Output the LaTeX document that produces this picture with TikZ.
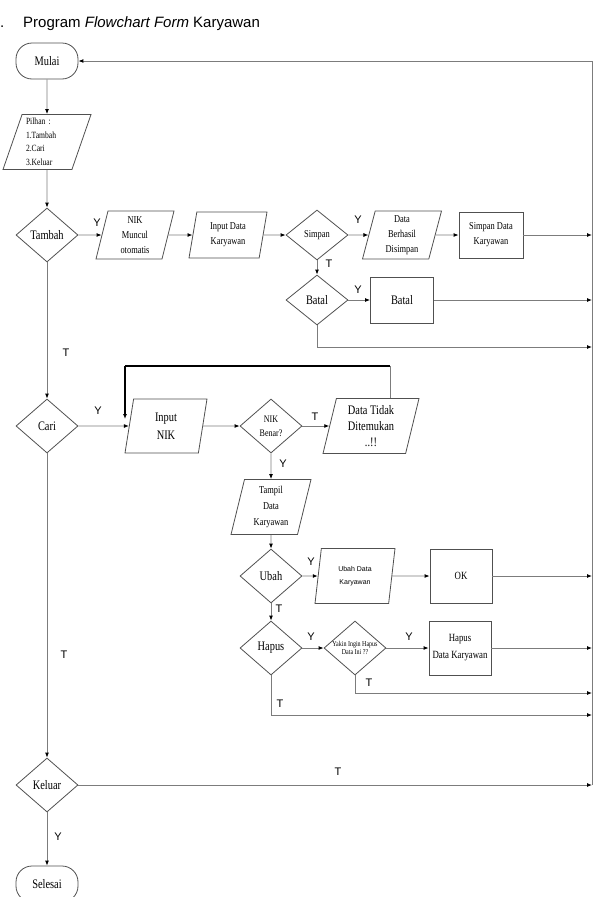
\documentclass[tikz,border=0pt]{standalone}
\usepackage{fontspec}
\setmainfont{Liberation Serif}[FakeStretch=0.8]
\setsansfont{Liberation Sans}
\usepackage{tikz}
\usetikzlibrary{arrows.meta}
\usetikzlibrary{shapes.geometric}
\definecolor{abu}{HTML}{7C7C7C}
\definecolor{tepi}{HTML}{505050}
\tikzset{>={Latex[length=5pt,width=4pt]}}
\tikzset{
	alur/.style={draw=abu, line width=0.9pt, -{Latex[black,length=5pt,width=4pt]}},
	garis/.style={draw=abu, line width=0.9pt},
	balik/.style={draw=black, line width=1.1pt},
	terminal/.style={draw=tepi, line width=0.8pt, rectangle, rounded corners=16pt, minimum width=62, minimum height=36, inner sep=0pt},
	keputusan/.style={draw=tepi, line width=0.8pt, diamond, aspect=1.15, inner sep=0pt, minimum width=62, minimum height=54, align=center},
	masukan/.style={draw=tepi, line width=0.8pt, trapezium, trapezium left angle=72, trapezium right angle=108, trapezium stretches body, inner sep=0pt, align=center},
	proses/.style={draw=tepi, line width=0.8pt, rectangle, inner sep=0pt, align=center},
	besar/.style={font=\fontsize{13}{18}\selectfont},
	sedang/.style={font=\fontsize{10.5}{15}\selectfont},
	ket/.style={font=\sffamily\fontsize{11}{11}\selectfont, inner sep=0pt},
}

\begin{document}
\begin{tikzpicture}[x=1pt, y=-1pt]
	\useasboundingbox (0,0) rectangle (596,897);
	\node[anchor=base west, inner sep=0pt, font=\sffamily\fontsize{15}{15}\selectfont] (nomor) at (0,27) {.};
	\node[anchor=base west, inner sep=0pt, font=\sffamily\fontsize{15}{15}\selectfont] (judul) at (23,27) {Program \textit{Flowchart Form} Karyawan};
	\coordinate (kanan) at (592,0);

	\node[terminal, besar] (mulai) at (47,61) {Mulai};
	\node[masukan, trapezium left angle=68, trapezium right angle=112, minimum width=88, minimum height=55, text width=42, align=left, font=\fontsize{9.5}{13.5}\selectfont] (pilihan) at (47,142) {Pilhan :\\1.Tambah\\2.Cari\\3.Keluar};
	\node[keputusan, besar] (tambah) at (47,235) {Tambah};
	\node[masukan, sedang, minimum width=78, minimum height=48] (nik) at (135,235) {NIK\\Muncul\\otomatis};
	\node[masukan, sedang, minimum width=78, minimum height=46] (inputdata) at (228,235) {Input Data\\Karyawan};
	\node[keputusan, sedang, minimum height=50] (simpan) at (317,235) {Simpan};
	\node[masukan, sedang, minimum width=79, minimum height=48] (berhasil) at (402,235) {Data\\Berhasil\\Disimpan};
	\node[proses, sedang, minimum width=64, minimum height=46] (simpandata) at (491,235) {Simpan Data\\Karyawan};
	\node[keputusan, besar, minimum height=50] (batal) at (317,300) {Batal};
	\node[proses, besar, minimum width=63, minimum height=46] (batalp) at (402,300) {Batal};
	\coordinate (kbatal) at (592,347);

	\node[keputusan, besar] (cari) at (47,426) {Cari};
	\node[masukan, besar, minimum width=82, minimum height=54] (inputnik) at (166,426) {Input\\NIK};
	\node[keputusan, font=\fontsize{10}{14}\selectfont] (nikbenar) at (271,426) {NIK\\Benar?};
	\node[masukan, font=\fontsize{13}{16}\selectfont, minimum width=96, minimum height=55] (tidak) at (371,426) {Data Tidak\\Ditemukan\\..!!};
	\coordinate (lkanan) at (390,366);
	\coordinate (lkiri) at (125,366);
	\coordinate (lujung) at (125,419);
	\node[masukan, font=\fontsize{10.5}{16}\selectfont, minimum width=80, minimum height=55] (tampil) at (271,507) {Tampil\\Data\\Karyawan};
	\node[keputusan, besar] (ubah) at (271,576) {Ubah};
	\node[masukan, font=\sffamily\fontsize{7}{13}\selectfont, minimum width=80, minimum height=55] (ubahdata) at (355,576) {Ubah Data\\Karyawan};
	\node[proses, font=\fontsize{11}{14}\selectfont, minimum width=62, minimum height=54] (ok) at (461,576) {OK};
	\node[keputusan, besar] (hapus) at (271,648) {Hapus};
	\node[keputusan, inner sep=-1.5pt, font=\fontsize{7.5}{8.5}\selectfont] (yakin) at (355,648) {Yakin Ingin Hapus\\Data Ini ??};
	\node[proses, font=\fontsize{11}{17}\selectfont, minimum width=62, minimum height=54] (hapusdata) at (460,648) {Hapus\\Data Karyawan};
	\coordinate (kyakin) at (592,693);
	\coordinate (khapus) at (592,715);

	\node[keputusan, besar] (keluar) at (47,785) {Keluar};
	\node[terminal, besar] (selesai) at (47,884) {Selesai};

	\draw[alur] (mulai.south) -- (pilihan.north);
	\draw[alur] (pilihan.south) -- (tambah.north);
	\draw[alur] (tambah.east) -- (nik.west);
	\draw[alur] (nik.east) -- (inputdata.west);
	\draw[alur] (inputdata.east) -- (simpan.west);
	\draw[alur] (simpan.east) -- (berhasil.west);
	\draw[alur] (berhasil.east) -- (simpandata.west);
	\draw[alur] (simpandata.east) -- (simpandata.east -| kanan);
	\draw[alur] (simpan.south) -- (batal.north);
	\draw[alur] (batal.east) -- (batalp.west);
	\draw[alur] (batalp.east) -- (batalp.east -| kanan);
	\draw[alur] (batal.south) |- (kbatal);
	\draw[alur] (tambah.south) -- (cari.north);

	\draw[alur] (cari.east) -- (inputnik.west);
	\draw[alur] (inputnik.east) -- (nikbenar.west);
	\draw[alur] (nikbenar.east) -- (tidak.west);
	\draw[garis] (tidak.north -| lkanan) -- (lkanan);
	\draw[balik] (lkanan) -- (lkiri);
	\draw[balik, -{Latex[black,length=5pt,width=4pt]}] (lkiri) -- (lujung);
	\draw[alur] (nikbenar.south) -- (tampil.north);
	\draw[alur] (tampil.south) -- (ubah.north);
	\draw[alur] (ubah.east) -- (ubahdata.west);
	\draw[alur] (ubahdata.east) -- (ok.west);
	\draw[alur] (ok.east) -- (ok.east -| kanan);
	\draw[alur] (ubah.south) -- (hapus.north);
	\draw[alur] (hapus.east) -- (yakin.west);
	\draw[alur] (yakin.east) -- (hapusdata.west);
	\draw[alur] (hapusdata.east) -- (hapusdata.east -| kanan);
	\draw[alur] (yakin.south) |- (kyakin);
	\draw[alur] (hapus.south) |- (khapus);
	\draw[alur] (cari.south) -- (keluar.north);

	\draw[alur] (keluar.east) -- (keluar.east -| kanan);
	\draw[alur] (keluar.south) -- (selesai.north);
	\draw[garis] (keluar.east -| kanan) -- (mulai.east -| kanan);
	\draw[alur] (mulai.east -| kanan) -- (mulai.east);

	\node[ket] (ya1) at (97,223) {Y};
	\node[ket] (ya2) at (358,220) {Y};
	\node[ket] (tidak1) at (329,264) {T};
	\node[ket] (ya3) at (358,290) {Y};
	\node[ket] (tidak2) at (66,353) {T};
	\node[ket] (ya4) at (98,411) {Y};
	\node[ket] (tidak3) at (315,417) {T};
	\node[ket] (ya5) at (283,464) {Y};
	\node[ket] (ya6) at (311,562) {Y};
	\node[ket] (tidak4) at (279,609) {T};
	\node[ket] (ya7) at (311,637) {Y};
	\node[ket] (ya8) at (409,637) {Y};
	\node[ket] (tidak5) at (369,683) {T};
	\node[ket] (tidak6) at (280,704) {T};
	\node[ket] (tidak7) at (64,655) {T};
	\node[ket] (tidak8) at (338,772) {T};
	\node[ket] (ya9) at (58,837) {Y};
\end{tikzpicture}
\end{document}
